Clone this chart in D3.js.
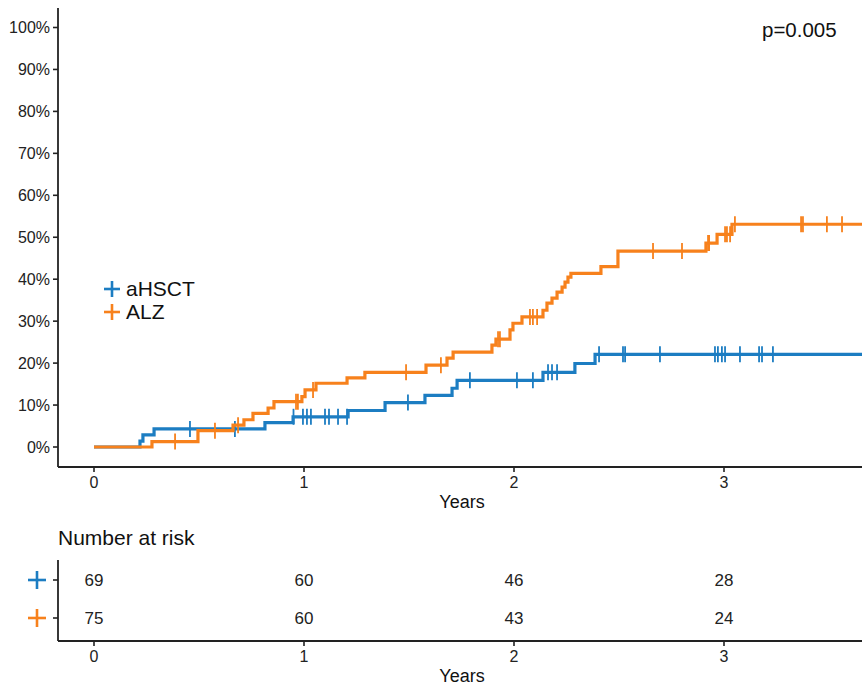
<!DOCTYPE html>
<html>
<head>
<meta charset="utf-8">
<script src="https://cdn.jsdelivr.net/npm/d3@7/dist/d3.min.js"></script>
<style>
  html, body { margin: 0; padding: 0; background: #fff; }
  svg { display: block; font-family: "Liberation Sans", Arial, Helvetica, sans-serif; }
</style>
</head>
<body>
<svg id="chart" width="862" height="686"></svg>
<script>
// Cumulative incidence steps: [years, percent]
const groups = ["aHSCT", "ALZ"];
const colors = ["#1c7dc2", "#f7811c"];

const stepsHSCT = [
  [0, 0], [0.219, 1.4], [0.233, 2.9], [0.286, 4.3], [0.814, 5.8], [0.948, 7.2],
  [1.21, 8.7], [1.386, 10.6], [1.576, 12.3], [1.705, 14.0], [1.729, 15.9],
  [2.138, 17.8], [2.29, 19.9], [2.386, 22.1]
];
const stepsALZ = [
  [0, 0], [0.276, 1.3], [0.495, 3.9], [0.662, 5.2], [0.714, 6.5], [0.757, 8.0],
  [0.829, 9.3], [0.857, 10.8], [0.99, 12.0], [1.005, 13.6], [1.057, 15.2],
  [1.205, 16.5], [1.29, 17.8], [1.581, 19.5], [1.681, 21.2], [1.71, 22.6],
  [1.895, 24.3], [1.914, 25.7], [1.981, 27.9], [1.995, 29.5], [2.038, 31.0],
  [2.138, 32.6], [2.157, 34.3], [2.181, 35.5], [2.205, 36.9], [2.229, 38.1],
  [2.243, 39.3], [2.257, 40.5], [2.271, 41.4], [2.414, 43.0], [2.495, 46.7],
  [2.914, 48.6], [2.967, 50.7], [3.038, 53.1]
];

// Censoring times (years)
const censorHSCT = [
  0.457, 0.671, 0.95, 0.995, 1.014, 1.033, 1.1, 1.119, 1.162, 1.205, 1.495,
  1.79, 2.014, 2.09, 2.162, 2.181, 2.205, 2.405, 2.519, 2.529, 2.695, 2.957,
  2.971, 2.99, 3.005, 3.076, 3.167, 3.181, 3.233
];
const censorALZ = [
  0.386, 0.576, 0.686, 0.962, 0.971, 1.043, 1.486, 1.652, 1.924, 1.933, 2.076,
  2.09, 2.11, 2.662, 2.8, 2.924, 2.929, 3.005, 3.014, 3.029, 3.052, 3.367,
  3.376, 3.49, 3.562
];

// Number at risk at each year
const riskTimes = [0, 1, 2, 3];
const riskHSCT = [69, 60, 46, 28];
const riskALZ = [75, 60, 43, 24];

const yTicks = [0, 10, 20, 30, 40, 50, 60, 70, 80, 90, 100];
const xTicks = [0, 1, 2, 3];
const pLabel = "p=0.005";
const endTime = 3.8;

const svg = d3.select("#chart");
const axisColor = "#222";

const x = d3.scaleLinear().domain([0, 3]).range([94, 724]);
const y = d3.scaleLinear().domain([0, 100]).range([447, 27.5]);

const panelLeft = 58, panelTop = 8, panelBottom = 467, panelRight = 862;

// Clip region for the main panel
svg.append("defs").append("clipPath").attr("id", "panel")
  .append("rect").attr("x", panelLeft).attr("y", panelTop)
  .attr("width", panelRight - panelLeft).attr("height", panelBottom - panelTop);

// Y axis
const yAxis = svg.append("g").attr("transform", `translate(${panelLeft},0)`);
yAxis.append("line").attr("x1", 0).attr("x2", 0).attr("y1", panelTop).attr("y2", panelBottom)
  .attr("stroke", axisColor).attr("stroke-width", 1.8);
yTicks.forEach(v => {
  yAxis.append("line").attr("x1", -5).attr("x2", 0).attr("y1", y(v)).attr("y2", y(v))
    .attr("stroke", axisColor).attr("stroke-width", 1.6);
  yAxis.append("text").attr("x", -8).attr("y", y(v)).attr("dy", "0.36em")
    .attr("text-anchor", "end").attr("font-size", 16).attr("fill", "#222")
    .text(v + "%");
});

// X axis (main and risk table)
function drawXAxis(yPos, labelBaseline, titleBaseline) {
  const g = svg.append("g");
  g.append("line").attr("x1", panelLeft).attr("x2", panelRight).attr("y1", yPos).attr("y2", yPos)
    .attr("stroke", axisColor).attr("stroke-width", 1.8);
  xTicks.forEach(t => {
    g.append("line").attr("x1", x(t)).attr("x2", x(t)).attr("y1", yPos).attr("y2", yPos + 5)
      .attr("stroke", axisColor).attr("stroke-width", 1.6);
    g.append("text").attr("x", x(t)).attr("y", labelBaseline).attr("text-anchor", "middle")
      .attr("font-size", 16).attr("fill", "#222").text(t);
  });
  g.append("text").attr("x", 462).attr("y", titleBaseline).attr("text-anchor", "middle")
    .attr("font-size", 18).attr("fill", "#111").text("Years");
}
drawXAxis(panelBottom, 488, 508);

// Step curves
const seriesSteps = [stepsHSCT, stepsALZ];
const seriesCensor = [censorHSCT, censorALZ];

function valueAt(steps, t) {
  let v = 0;
  for (const s of steps) { if (s[0] <= t) v = s[1]; else break; }
  return v;
}

const line = d3.line().x(d => x(d[0])).y(d => y(d[1])).curve(d3.curveStepAfter);
const plot = svg.append("g").attr("clip-path", "url(#panel)");

// ALZ drawn last so it sits on top
[0, 1].forEach(i => {
  const steps = seriesSteps[i];
  const pts = steps.concat([[endTime, steps[steps.length - 1][1]]]);
  plot.append("path").datum(pts).attr("d", line)
    .attr("fill", "none").attr("stroke", colors[i]).attr("stroke-width", 3.2);
  seriesCensor[i].forEach(t => {
    const v = valueAt(steps, t);
    plot.append("line").attr("x1", x(t)).attr("x2", x(t))
      .attr("y1", y(v) - 8).attr("y2", y(v) + 8)
      .attr("stroke", colors[i]).attr("stroke-width", 1.8);
  });
});

// p-value
svg.append("text").attr("x", 762).attr("y", 37).attr("font-size", 20.5).attr("fill", "#111").text(pLabel);

// Legend
function plus(cx, cy, half, color, w) {
  svg.append("line").attr("x1", cx - half).attr("x2", cx + half).attr("y1", cy).attr("y2", cy)
    .attr("stroke", color).attr("stroke-width", w);
  svg.append("line").attr("x1", cx).attr("x2", cx).attr("y1", cy - half).attr("y2", cy + half)
    .attr("stroke", color).attr("stroke-width", w);
}
const legendY = [289, 312];
groups.forEach((g, i) => {
  plus(112, legendY[i], 8, colors[i], 2.6);
  svg.append("text").attr("x", 126).attr("y", legendY[i] + 7).attr("font-size", 21)
    .attr("fill", "#111").text(g);
});

// Risk table
svg.append("text").attr("x", 58).attr("y", 545).attr("font-size", 21).attr("fill", "#111")
  .text("Number at risk");

const tableTop = 560, tableBottom = 641;
const rowY = [580, 618];
svg.append("line").attr("x1", panelLeft).attr("x2", panelLeft).attr("y1", tableTop).attr("y2", tableBottom)
  .attr("stroke", axisColor).attr("stroke-width", 1.8);
const riskRows = [riskHSCT, riskALZ];
rowY.forEach((ry, i) => {
  svg.append("line").attr("x1", panelLeft - 5).attr("x2", panelLeft).attr("y1", ry).attr("y2", ry)
    .attr("stroke", axisColor).attr("stroke-width", 1.6);
  plus(37, ry, 9, colors[i], 2.6);
  riskTimes.forEach((t, j) => {
    svg.append("text").attr("x", x(t)).attr("y", ry).attr("dy", "0.36em")
      .attr("text-anchor", "middle").attr("font-size", 17).attr("fill", "#222")
      .text(riskRows[i][j]);
  });
});
drawXAxis(tableBottom, 662, 682);
</script>
</body>
</html>
